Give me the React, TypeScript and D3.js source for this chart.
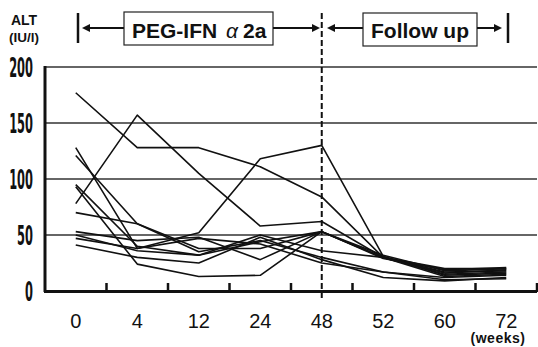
import React from 'react';
import * as d3 from 'd3';

// weeks of treatment / follow-up (categorical x axis)
const weeks = ['0', '4', '12', '24', '48', '52', '60', '72'];
const yTicks = [0, 50, 100, 150, 200];

// ALT (IU/l) per patient, one value per week
const p1 = [177, 128, 128, 111, 84, 30, 20, 20];
const p2 = [78, 157, 105, 58, 62, 30, 17, 18];
const p3 = [128, 38, 52, 118, 130, 31, 14, 16];
const p4 = [121, 60, 35, 45, 30, 17, 12, 14];
const p5 = [95, 40, 32, 44, 53, 30, 15, 17];
const p6 = [93, 24, 13, 14, 53, 29, 19, 21];
const p7 = [70, 60, 38, 38, 53, 32, 18, 20];
const p8 = [53, 45, 48, 28, 53, 30, 13, 15];
const p9 = [50, 36, 32, 50, 36, 30, 16, 19];
const p10 = [47, 38, 47, 42, 25, 17, 10, 11];
const p11 = [41, 30, 25, 48, 28, 12, 9, 12];
const patients = [p1, p2, p3, p4, p5, p6, p7, p8, p9, p10, p11];

const W = 538;
const H = 347;

const Arrow = ({ x, y, dir }: { x: number; y: number; dir: number }) => (
  // small filled head, tip at (x,y), dir 1 = right, -1 = left
  <path d={`M${x},${y} L${x - dir * 8},${y - 4} L${x - dir * 8},${y + 4} Z`} fill="#111" />
);

export default function App() {
  const x = d3.scaleBand<string>().domain(weeks).range([45, 537]).padding(0);
  const y = d3.scaleLinear().domain([0, 200]).range([291, 67]);
  const cx = (w: string) => (x(w) as number) + x.bandwidth() / 2;

  const line = d3
    .line<number>()
    .x((_, i) => cx(weeks[i]))
    .y((d) => y(d));

  const x48 = cx('48');
  const narrow = '"Liberation Sans Narrow", "DejaVu Sans Condensed", sans-serif';
  const sans = '"Liberation Sans", Arial, sans-serif';

  return (
    <div style={{ position: 'absolute', left: 0, top: 0 }}>
      <svg width={W} height={H} viewBox={`0 0 ${W} ${H}`} style={{ display: 'block', background: '#fff' }}>
        {/* y axis title */}
        <text x={11} y={25} fontFamily={sans} fontWeight="bold" fontSize={14} fill="#111">ALT</text>
        <text x={9} y={42} fontFamily={sans} fontWeight="bold" fontSize={13.5} fill="#111">(IU/l)</text>

        {/* treatment period header */}
        <line x1={78} x2={78} y1={13} y2={43} stroke="#111" strokeWidth={2.5} />
        <line x1={84} x2={124} y1={28} y2={28} stroke="#111" strokeWidth={2} />
        <Arrow x={82} y={28} dir={-1} />
        <rect x={124} y={12} width={149} height={33} fill="#fff" stroke="#222" strokeWidth={1.2} />
        <text x={132} y={38} fontFamily={sans} fontWeight="bold" fontSize={21} fill="#111">PEG-IFN</text>
        <text x={226} y={38} fontFamily={sans} fontStyle="italic" fontSize={21} fill="#111">α</text>
        <text x={243} y={38} fontFamily={sans} fontWeight="bold" fontSize={21} fill="#111">2a</text>
        <line x1={273} x2={314} y1={28} y2={28} stroke="#111" strokeWidth={2} />
        <Arrow x={320} y={28} dir={1} />

        {/* follow up header */}
        <line x1={333} x2={363} y1={28} y2={28} stroke="#111" strokeWidth={2} />
        <Arrow x={327} y={28} dir={-1} />
        <rect x={363} y={13} width={114} height={33} fill="#fff" stroke="#222" strokeWidth={1.2} />
        <text x={371} y={38} fontFamily={sans} fontWeight="bold" fontSize={21} fill="#111">Follow up</text>
        <line x1={477} x2={496} y1={28} y2={28} stroke="#111" strokeWidth={2} />
        <Arrow x={502} y={28} dir={1} />
        <line x1={508} x2={508} y1={13} y2={43} stroke="#111" strokeWidth={2.5} />

        {/* gridlines */}
        {yTicks.filter((t) => t > 0).map((t) => (
          <line key={t} x1={45} x2={537} y1={y(t)} y2={y(t)} stroke="#333" strokeWidth={1.3} />
        ))}

        {/* y tick labels, tall condensed digits */}
        {yTicks.map((t) => (
          <text
            key={t}
            transform={`translate(33,${y(t) + 10}) scale(0.47,1)`}
            textAnchor="end"
            fontFamily={narrow}
            fontWeight="bold"
            fontSize={27}
            fill="#111"
          >
            {t}
          </text>
        ))}

        {/* patient lines */}
        {patients.map((p, i) => (
          <path key={i} d={line(p) || ''} fill="none" stroke="#111" strokeWidth={1.6} strokeLinejoin="round" />
        ))}

        {/* end of treatment */}
        <line x1={x48} x2={x48} y1={13} y2={298} stroke="#111" strokeWidth={2} strokeDasharray="6 3" />

        {/* axes */}
        <line x1={45} x2={45} y1={66} y2={292} stroke="#111" strokeWidth={3} />
        <line x1={44} x2={537} y1={291.5} y2={291.5} stroke="#111" strokeWidth={3} />
        {weeks.map((w) => (
          <line
            key={w}
            x1={(x(w) as number) + x.bandwidth()}
            x2={(x(w) as number) + x.bandwidth()}
            y1={283}
            y2={292}
            stroke="#111"
            strokeWidth={2.5}
          />
        ))}

        {/* x tick labels */}
        {weeks.map((w) => (
          <text key={w} x={cx(w)} y={328} textAnchor="middle" fontFamily={sans} fontSize={20} fill="#111">
            {w}
          </text>
        ))}
        <text x={498} y={343} textAnchor="middle" fontFamily={sans} fontWeight="bold" fontSize={14} letterSpacing={0.5} fill="#111">
          (weeks)
        </text>
      </svg>
    </div>
  );
}
